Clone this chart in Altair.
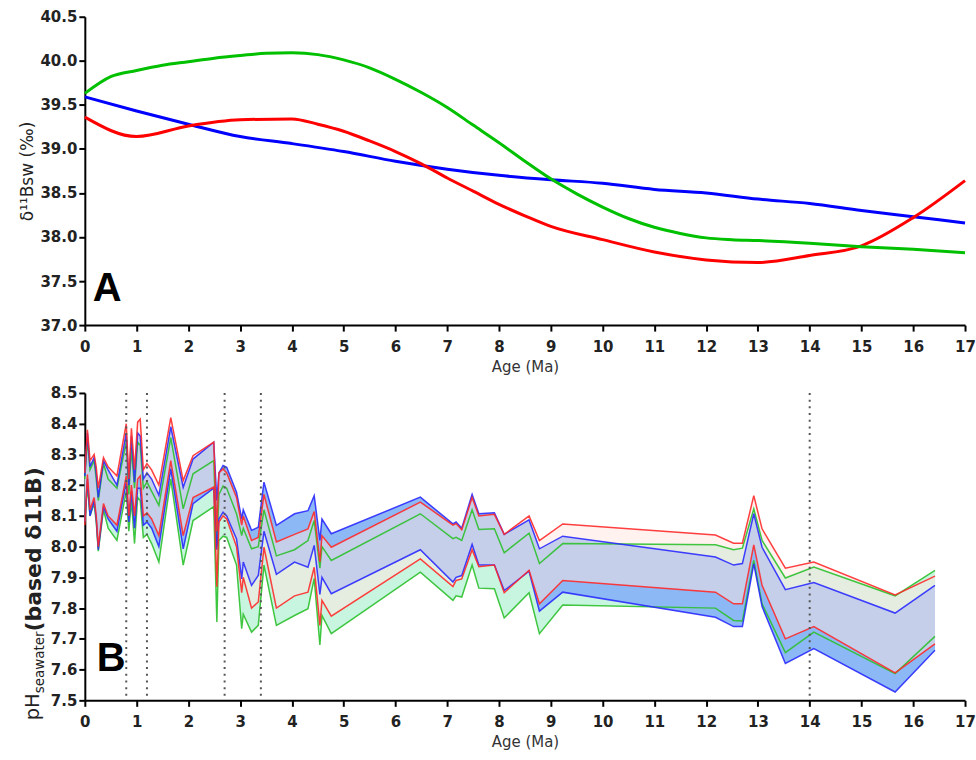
import altair as alt
import pandas as pd
import numpy as np

# ---------------- Panel A data ----------------
green_age = [0, 0.5, 1, 1.5, 2, 2.5, 3, 3.5, 4, 4.5, 5, 5.5, 6, 6.5, 7, 7.5, 8, 8.5, 9, 9.5, 10, 10.5, 11, 11.5, 12, 12.5, 13, 14, 15, 16, 17]
green_val = [39.63, 39.82, 39.89, 39.95, 39.99, 40.03, 40.06, 40.085, 40.09, 40.07, 40.01, 39.92, 39.79, 39.64, 39.47, 39.27, 39.07, 38.86, 38.66, 38.49, 38.34, 38.21, 38.11, 38.04, 37.99, 37.97, 37.96, 37.93, 37.89, 37.86, 37.82]
blue_age = [0, 1, 2, 3, 4, 5, 6, 7, 8, 9, 10, 11, 12, 13, 14, 15, 16, 17]
blue_val = [39.59, 39.43, 39.28, 39.14, 39.06, 38.97, 38.86, 38.77, 38.70, 38.65, 38.61, 38.54, 38.50, 38.43, 38.38, 38.30, 38.23, 38.16]
red_age = [0, 1, 2, 3, 4, 4.5, 5, 5.5, 6, 6.5, 7, 7.5, 8, 8.5, 9, 10, 11, 12, 13, 14, 15, 16, 17]
red_val = [39.36, 39.14, 39.26, 39.33, 39.34, 39.28, 39.20, 39.09, 38.97, 38.83, 38.67, 38.52, 38.37, 38.24, 38.12, 37.97, 37.83, 37.74, 37.71, 37.79, 37.90, 38.22, 38.64]

# ---------------- Panel B data ----------------
ages = [0.00, 0.05, 0.10, 0.18, 0.22, 0.26, 0.36, 0.45, 0.62, 0.80, 0.85, 0.90, 0.96, 1.02, 1.07, 1.13, 1.20, 1.29, 1.43, 1.66,
        1.90, 2.09, 2.49, 2.55, 2.59, 2.67, 2.74, 2.93, 3.03, 3.06, 3.22, 3.35, 3.46, 3.70, 4.05, 4.31, 4.43, 4.54, 4.58, 4.76,
        6.48, 7.11, 7.17, 7.28, 7.48, 7.61, 7.91, 8.10, 8.58, 8.78, 9.23, 12.18, 12.53, 12.70, 12.92, 13.08, 13.53, 14.08, 15.65, 16.42]
red_upper = [8.24, 8.38, 8.28, 8.30, 8.26, 8.19, 8.29, 8.26, 8.23, 8.40, 8.22, 8.385, 8.25, 8.405, 8.415, 8.25, 8.27, 8.25, 8.20, 8.42,
             8.215, 8.296, 8.34, 8.05, 8.24, 8.253, 8.24, 8.16, 8.07, 8.10, 8.02, 8.03, 8.17, 8.015, 8.04, 8.058, 8.114, 7.95, 8.036, 7.998,
             8.145, 8.07, 8.075, 8.055, 8.16, 8.10, 8.105, 8.04, 8.10, 8.02, 8.074, 8.038, 8.011, 8.011, 8.166, 8.058, 7.93, 7.95, 7.843, 7.904]
blue_upper = [8.23, 8.37, 8.26, 8.29, 8.24, 8.16, 8.28, 8.25, 8.20, 8.37, 8.20, 8.36, 8.21, 8.37, 8.36, 8.22, 8.24, 8.22, 8.167, 8.39,
              8.193, 8.285, 8.34, 8.15, 8.24, 8.264, 8.258, 8.177, 8.09, 8.12, 8.053, 8.063, 8.21, 8.069, 8.107, 8.117, 8.166, 8.02, 8.09, 8.042,
              8.161, 8.074, 8.08, 8.06, 8.17, 8.107, 8.11, 8.04, 8.087, 7.993, 8.034, 7.966, 7.94, 7.945, 8.107, 7.998, 7.86, 7.883, 7.784, 7.874]
green_upper = [8.22, 8.35, 8.25, 8.28, 8.22, 8.15, 8.27, 8.22, 8.19, 8.34, 8.17, 8.32, 8.19, 8.34, 8.33, 8.19, 8.21, 8.18, 8.134, 8.355,
               8.123, 8.237, 8.28, 8.00, 8.17, 8.197, 8.19, 8.107, 8.036, 8.06, 7.993, 8.00, 8.12, 7.97, 7.99, 8.02, 8.085, 7.93, 8.00, 7.955,
               8.107, 8.026, 8.03, 8.02, 8.12, 8.056, 8.058, 7.98, 8.044, 7.945, 8.01, 8.006, 7.99, 7.995, 8.123, 8.02, 7.898, 7.934, 7.84, 7.923]
red_lower = [8.07, 8.235, 8.12, 8.16, 8.10, 8.00, 8.14, 8.10, 8.07, 8.23, 8.10, 8.20, 8.10, 8.22, 8.23, 8.10, 8.11, 8.09, 8.036, 8.28,
             8.036, 8.16, 8.194, 7.87, 8.08, 8.10, 8.09, 8.00, 7.85, 7.90, 7.80, 7.82, 7.998, 7.80, 7.84, 7.852, 7.933, 7.744, 7.825, 7.774,
             7.96, 7.87, 7.89, 7.895, 7.99, 7.935, 7.94, 7.85, 7.923, 7.814, 7.89, 7.852, 7.814, 7.814, 8.006, 7.874, 7.70, 7.74, 7.589, 7.684]
blue_lower = [8.08, 8.22, 8.10, 8.15, 8.09, 7.99, 8.13, 8.09, 8.05, 8.21, 8.08, 8.18, 8.06, 8.19, 8.19, 8.07, 8.08, 8.06, 8.00, 8.253,
              7.993, 8.14, 8.19, 7.99, 8.09, 8.112, 8.10, 8.025, 7.895, 7.95, 7.874, 7.906, 8.05, 7.91, 7.95, 7.933, 8.004, 7.845, 7.90, 7.847,
              7.99, 7.885, 7.90, 7.906, 8.007, 7.94, 7.94, 7.857, 7.92, 7.79, 7.852, 7.77, 7.74, 7.74, 7.944, 7.805, 7.62, 7.668, 7.527, 7.663]
green_lower = [8.08, 8.20, 8.10, 8.14, 8.08, 7.985, 8.12, 8.06, 8.02, 8.18, 8.05, 8.15, 8.01, 8.16, 8.15, 8.03, 8.04, 8.01, 7.95, 8.22,
               7.94, 8.085, 8.13, 7.755, 8.02, 8.034, 8.03, 7.94, 7.733, 7.78, 7.722, 7.744, 7.94, 7.744, 7.776, 7.798, 7.896, 7.68, 7.776, 7.717,
               7.917, 7.825, 7.84, 7.836, 7.94, 7.865, 7.863, 7.768, 7.85, 7.717, 7.81, 7.80, 7.76, 7.758, 7.955, 7.814, 7.655, 7.722, 7.587, 7.708]
dotted_ages = [0.8, 1.2, 2.7, 3.4, 14.0]

x_ticks = list(range(0, 18))
top_y_ticks = [37.0, 37.5, 38.0, 38.5, 39.0, 39.5, 40.0, 40.5]
bot_y_ticks = [7.5, 7.6, 7.7, 7.8, 7.9, 8.0, 8.1, 8.2, 8.3, 8.4, 8.5]

W = 882
H_TOP = 309
H_BOT = 308
FONT = "DejaVu Sans"

X_AXIS = alt.Axis(values=x_ticks, tickSize=6, tickWidth=2, tickColor="black", domainWidth=2, domainColor="black",
                  labelFont=FONT, labelFontWeight="bold", labelFontSize=15, labelColor="#222", labelPadding=8,
                  title="Age (Ma)", titleFont=FONT, titleFontWeight="normal", titleFontSize=15, titleColor="#333",
                  titlePadding=5, grid=False, labelFlush=False, labelOverlap=False)

def y_axis(values, title):
    kw = dict(values=values, format=".1f", tickSize=6, tickWidth=2, tickColor="black", domainWidth=2,
              domainColor="black", labelFont=FONT, labelFontWeight="bold", labelFontSize=15, labelColor="#222",
              labelPadding=2, grid=False, labelFlush=False, labelOverlap=False, tickCount=len(values))
    if title:
        kw.update(title=title, titleFont=FONT, titleFontWeight="normal", titleFontSize=17, titleColor="#222",
                  titlePadding=3)
    else:
        kw.update(title=None)
    return alt.Axis(**kw)

TOP_Y_AXIS = y_axis(top_y_ticks, "δ¹¹Bsw (‰)")
BOT_Y_AXIS = y_axis(bot_y_ticks, None)

xs = alt.Scale(domain=[0, 17], nice=False, zero=False)
ys_top = alt.Scale(domain=[37, 40.5], nice=False, zero=False)
ys_bot = alt.Scale(domain=[7.5, 8.5], nice=False, zero=False)

# ---------------- Panel A ----------------
def top_line(age, val, color):
    df = pd.DataFrame({"age": age, "val": val})
    return alt.Chart(df).mark_line(color=color, strokeWidth=3, interpolate="monotone").encode(
        x=alt.X("age:Q", scale=xs, axis=X_AXIS),
        y=alt.Y("val:Q", scale=ys_top, axis=TOP_Y_AXIS),
    )

label_a = alt.Chart(pd.DataFrame({"t": ["A"]})).mark_text(
    font="Liberation Sans", fontWeight="bold", fontSize=40, align="left", baseline="alphabetic", color="black"
).encode(x=alt.value(8), y=alt.value(285), text="t:N")

top = alt.layer(
    top_line(blue_age, blue_val, "#0000ff"),
    top_line(red_age, red_val, "#ff0000"),
    top_line(green_age, green_val, "#00c000"),
    label_a,
).properties(width=W, height=H_TOP)

# ---------------- Panel B ----------------
dfb = pd.DataFrame({"age": ages, "ru": red_upper, "bu": blue_upper, "gu": green_upper,
                    "rl": red_lower, "bl": blue_lower, "gl": green_lower})
base = alt.Chart(dfb)

def bx():
    return alt.X("age:Q", scale=xs, axis=X_AXIS)

def by(field):
    return alt.Y(f"{field}:Q", scale=ys_bot, axis=BOT_Y_AXIS)

area_g = base.mark_area(color="#c8f5e0", opacity=1).encode(x=bx(), y=by("gl"), y2="gu:Q")
area_b = base.mark_area(color="#8cb9f5", opacity=1).encode(x=bx(), y=by("bl"), y2="bu:Q")
area_r = base.mark_area(color="#ffe6e0", opacity=0.5).encode(x=bx(), y=by("rl"), y2="ru:Q")

def bline(field, color):
    return base.mark_line(color=color, strokeWidth=1.5, opacity=0.9).encode(x=bx(), y=by(field))

dots = alt.Chart(pd.DataFrame({"age": dotted_ages})).mark_rule(
    color="#555", strokeWidth=2, strokeDash=[2, 4.7]
).encode(x=bx(), y=alt.YDatum(8.5, scale=ys_bot, axis=BOT_Y_AXIS), y2=alt.datum(7.5))

def rtext(txt, x, y, size, weight="normal"):
    return alt.Chart(pd.DataFrame({"t": [txt]})).mark_text(
        font=FONT, fontWeight=weight, fontSize=size, angle=270, align="left", baseline="alphabetic", color="#222"
    ).encode(x=alt.value(x), y=alt.value(y), text="t:N")

label_b = alt.Chart(pd.DataFrame({"t": ["B"]})).mark_text(
    font="Liberation Sans", fontWeight="bold", fontSize=40, align="left", baseline="alphabetic", color="black"
).encode(x=alt.value(12), y=alt.value(279), text="t:N")

bottom = alt.layer(
    area_g, area_b, area_r,
    bline("gu", "#2cc02c"), bline("gl", "#2cc02c"),
    bline("bu", "#2a2aff"), bline("bl", "#2a2aff"),
    bline("ru", "#ff2a2a"), bline("rl", "#ff2a2a"),
    dots,
    rtext("pH", -45.5, 328, 19.5),
    rtext("seawater", -41, 301, 13.5),
    rtext("(based δ11B)", -44, 239, 22, "bold"),
    label_b,
).properties(width=W, height=H_BOT)

chart = alt.vconcat(top, bottom, spacing=12).configure_view(stroke=None).configure_axis(
    labelOverlap=False
).properties(
    padding={"left": 18, "top": 9, "right": 0, "bottom": 0}
)

chart.save("out.html", embed_options={"renderer": "svg", "actions": False})
